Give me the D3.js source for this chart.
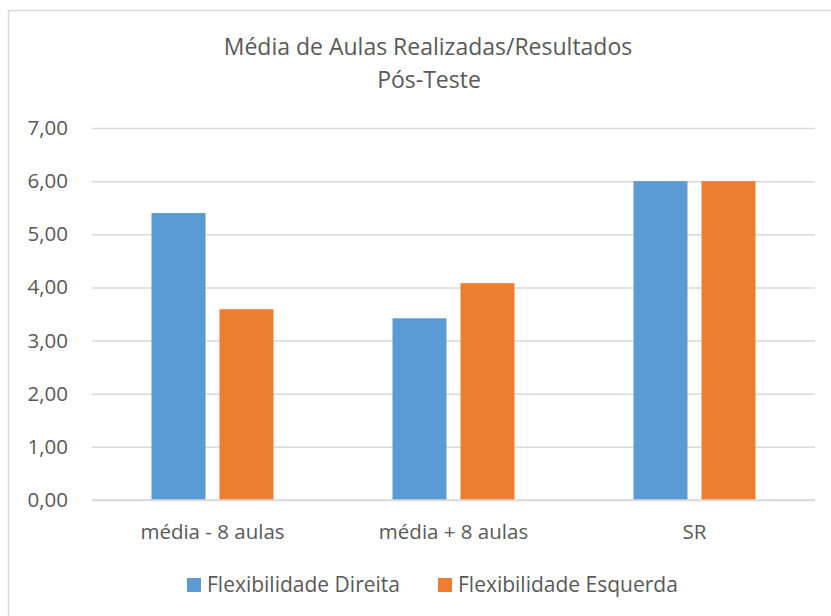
<!DOCTYPE html>
<html>
<head>
<meta charset="utf-8">
<script src="https://cdn.jsdelivr.net/npm/d3@7"></script>
<style>
  body { margin: 0; background: #fff; }
  svg text { font-family: "Open Sans", sans-serif; fill: #595959; }
</style>
</head>
<body>
<div id="chart"></div>
<script>
// data
const categories = ["média - 8 aulas", "média + 8 aulas", "SR"];
const seriesNames = ["Flexibilidade Direita", "Flexibilidade Esquerda"];
const direita = [5.40, 3.42, 6.00];
const esquerda = [3.59, 4.08, 6.00];
const yTicks = [0, 1, 2, 3, 4, 5, 6, 7];
const colours = ["#5b9bd5", "#ed7d31"];

let width = 831, height = 616;
let margin = { top: 128, right: 16, bottom: 116, left: 92 };
let innerW = width - margin.left - margin.right;
let innerH = height - margin.top - margin.bottom;

let svg = d3.select("#chart").append("svg")
    .attr("width", width)
    .attr("height", height);

// chart box
svg.append("rect")
    .attr("x", 8.5).attr("y", 10.5)
    .attr("width", 840).attr("height", 640)
    .attr("fill", "none")
    .attr("stroke", "#d9d9d9")
    .attr("stroke-width", 1.5);

// title
svg.append("text")
    .attr("x", 428).attr("y", 55)
    .attr("text-anchor", "middle")
    .style("font-size", "23px")
    .text("Média de Aulas Realizadas/Resultados");
svg.append("text")
    .attr("x", 429).attr("y", 88)
    .attr("text-anchor", "middle")
    .style("font-size", "23px")
    .text("Pós-Teste");

let g = svg.append("g")
    .attr("transform", "translate(" + margin.left + "," + margin.top + ")");

let x0 = d3.scaleBand().domain(categories).range([0, innerW]);
let x1 = d3.scaleBand().domain(seriesNames)
    .range([59.5, x0.bandwidth() - 59.5])
    .paddingInner(0.206);
let y = d3.scaleLinear().domain([0, 7]).range([innerH, 0]);

let fmt = function (d) { return d.toFixed(2).replace(".", ","); };

// gridlines
g.append("g")
    .attr("class", "grid")
    .call(d3.axisLeft(y).tickValues(yTicks).tickSize(-innerW).tickFormat(""))
    .call(function (s) {
        s.select(".domain").remove();
        s.selectAll("line").attr("stroke", "#d9d9d9").attr("stroke-width", 1.5);
    });

// y labels
g.append("g")
    .call(d3.axisLeft(y).tickValues(yTicks).tickSize(0).tickPadding(24).tickFormat(fmt))
    .call(function (s) {
        s.select(".domain").remove();
        s.selectAll("text").style("font-size", "20.5px").attr("fill", "#595959");
    });

// bars
let rows = categories.map(function (c, i) {
    return { cat: c, vals: [direita[i], esquerda[i]] };
});

let grp = g.selectAll(".grp")
    .data(rows)
    .enter().append("g")
    .attr("transform", function (d) { return "translate(" + x0(d.cat) + ",0)"; });

grp.selectAll("rect")
    .data(function (d) {
        return d.vals.map(function (v, j) { return { name: seriesNames[j], v: v, j: j }; });
    })
    .enter().append("rect")
    .attr("x", function (d) { return x1(d.name); })
    .attr("width", x1.bandwidth())
    .attr("y", function (d) { return y(d.v); })
    .attr("height", function (d) { return innerH - y(d.v); })
    .attr("fill", function (d) { return colours[d.j]; });

// baseline
g.append("line")
    .attr("x1", 0).attr("x2", innerW)
    .attr("y1", innerH).attr("y2", innerH)
    .attr("stroke", "#d9d9d9").attr("stroke-width", 1.5);

// x labels
g.append("g")
    .attr("transform", "translate(0," + innerH + ")")
    .call(d3.axisBottom(x0).tickSize(0))
    .call(function (s) {
        s.select(".domain").remove();
        s.selectAll("text")
            .attr("y", 39).attr("dy", 0)
            .style("font-size", "20.5px").attr("fill", "#595959");
    });

// legend
let legendX = [187, 438];
let leg = svg.selectAll(".leg")
    .data(seriesNames)
    .enter().append("g")
    .attr("transform", function (d, i) { return "translate(" + legendX[i] + ",578)"; });
leg.append("rect")
    .attr("width", 14).attr("height", 14)
    .attr("fill", function (d, i) { return colours[i]; });
leg.append("text")
    .attr("x", 20).attr("y", 14)
    .style("font-size", "21px")
    .text(function (d) { return d; });
</script>
</body>
</html>
